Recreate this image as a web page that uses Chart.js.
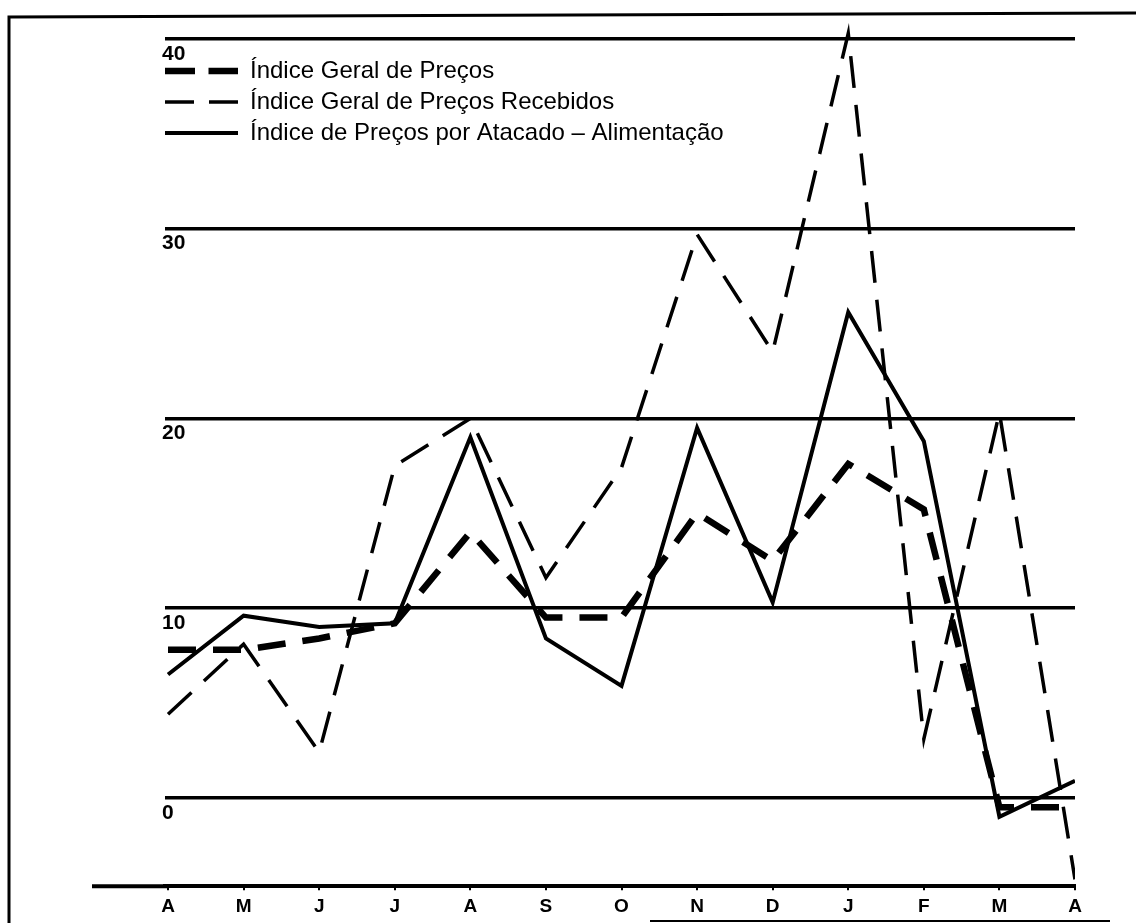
<!DOCTYPE html>
<html>
<head>
<meta charset="utf-8">
<script src="https://cdn.jsdelivr.net/npm/chart.js@4.4.1/dist/chart.umd.min.js"></script>
<style>
  html, body { margin: 0; padding: 0; background: #fff; }
  canvas { display: block; }
</style>
</head>
<body>
<canvas id="indexChart" width="1136" height="923"></canvas>
<script>
const months = ["A", "M", "J", "J", "A", "S", "O", "N", "D", "J", "F", "M", "A"];
const yTicks = [0, 10, 20, 30, 40];
const seriesLabels = [
    "Índice Geral de Preços",
    "Índice Geral de Preços Recebidos",
    "Índice de Preços por Atacado – Alimentação"
];
const geralPrecos = [7.8, 7.8, 8.4, 9.2, 14.0, 9.5, 9.5, 15.0, 12.5, 17.6, 15.2, -0.5, -0.5];
const precosRecebidos = [4.4, 8.1, 2.4, 17.5, 20.0, 11.6, 17.4, 29.7, 23.5, 40.3, 3.1, 20.3, -4.3];
const atacadoAlimentacao = [6.5, 9.6, 9.0, 9.2, 19.0, 8.4, 5.9, 19.5, 10.3, 25.6, 18.8, -1.0, 0.9];

const fontFamily = "'Liberation Sans', Arial, sans-serif";

// month index -> {x, y} so the x axis can be a linear one
function toPoints(values) {
    return values.map((v, i) => ({ x: i, y: v }));
}

// page frame and the bit of the x axis that runs left of the plot
const paperFrame = {
    id: 'paperFrame',
    beforeDraw(chart) {
        const ctx = chart.ctx;
        ctx.save();
        ctx.fillStyle = '#fff';
        ctx.fillRect(0, 0, chart.width, chart.height);
        ctx.strokeStyle = '#000';
        ctx.lineWidth = 3;
        ctx.beginPath();
        ctx.moveTo(9, 923);
        ctx.lineTo(9, 17);
        ctx.lineTo(1136, 13);
        ctx.stroke();
        ctx.lineWidth = 2;
        ctx.beginPath();
        ctx.moveTo(650, 921);
        ctx.lineTo(1110, 921);
        ctx.stroke();
        const yAxis = chart.scales.y;
        const y = yAxis.getPixelForValue(yAxis.min);
        ctx.lineWidth = 4;
        ctx.beginPath();
        ctx.moveTo(92, y);
        ctx.lineTo(chart.chartArea.left + 2, y);
        ctx.stroke();
        ctx.restore();
    }
};

const ctx = document.getElementById("indexChart").getContext('2d');
const config = {
    type: 'line',
    data: {
        datasets: [
            {
                label: seriesLabels[0],
                data: toPoints(geralPrecos),
                borderColor: '#000',
                borderWidth: 6.5,
                borderDash: [28, 17],
                legendDash: [30, 13.5]
            },
            {
                label: seriesLabels[1],
                data: toPoints(precosRecebidos),
                borderColor: '#000',
                borderWidth: 3.5,
                borderDash: [32, 17],
                legendDash: [29, 15]
            },
            {
                label: seriesLabels[2],
                data: toPoints(atacadoAlimentacao),
                borderColor: '#000',
                borderWidth: 4,
                borderDash: [],
                legendDash: []
            }
        ]
    },
    options: {
        responsive: false,
        animation: false,
        layout: {
            padding: { left: 165, right: 61, top: 20, bottom: 0 }
        },
        elements: {
            point: { radius: 0 },
            line: { tension: 0, fill: false, borderJoinStyle: 'miter', borderCapStyle: 'butt' }
        },
        scales: {
            x: {
                type: 'linear',
                min: -0.04,
                max: 12,
                afterBuildTicks: (scale) => {
                    scale.ticks = months.map((m, i) => ({ value: i }));
                },
                ticks: {
                    autoSkip: false,
                    maxRotation: 0,
                    padding: 5,
                    color: '#000',
                    font: { family: fontFamily, size: 19, weight: 'bold' },
                    callback: (value, index) => months[index]
                },
                grid: {
                    drawOnChartArea: false,
                    drawTicks: true,
                    tickLength: 4,
                    color: '#000',
                    lineWidth: 2
                },
                border: { display: true, color: '#000', width: 4 }
            },
            y: {
                min: -4.66,
                max: 41,
                afterBuildTicks: (scale) => {
                    scale.ticks = yTicks.map(v => ({ value: v }));
                },
                ticks: {
                    mirror: true,
                    padding: -1,
                    labelOffset: 15,
                    color: '#000',
                    font: { family: fontFamily, size: 21, weight: 'bold' }
                },
                grid: { color: '#000', lineWidth: 3.5, drawTicks: false },
                border: { display: false }
            }
        },
        plugins: {
            tooltip: { enabled: false },
            legend: {
                position: 'chartArea',
                align: 'start',
                title: {
                    display: true,
                    text: ' ',
                    font: { size: 10 },
                    padding: { top: 47, bottom: 0 }
                },
                labels: {
                    usePointStyle: true,
                    pointStyleWidth: 73,
                    padding: 0,
                    color: '#000',
                    font: { family: fontFamily, size: 24, lineHeight: '31px' },
                    generateLabels: (chart) => chart.data.datasets.map((ds, i) => ({
                        text: [ds.label],
                        fillStyle: 'rgba(0,0,0,0)',
                        strokeStyle: '#000',
                        fontColor: '#000',
                        lineWidth: ds.borderWidth,
                        lineDash: ds.legendDash,
                        lineCap: 'butt',
                        pointStyle: 'line',
                        hidden: false,
                        datasetIndex: i
                    }))
                }
            }
        }
    },
    plugins: [paperFrame]
};

const indexChart = new Chart(ctx, config);
</script>
</body>
</html>
